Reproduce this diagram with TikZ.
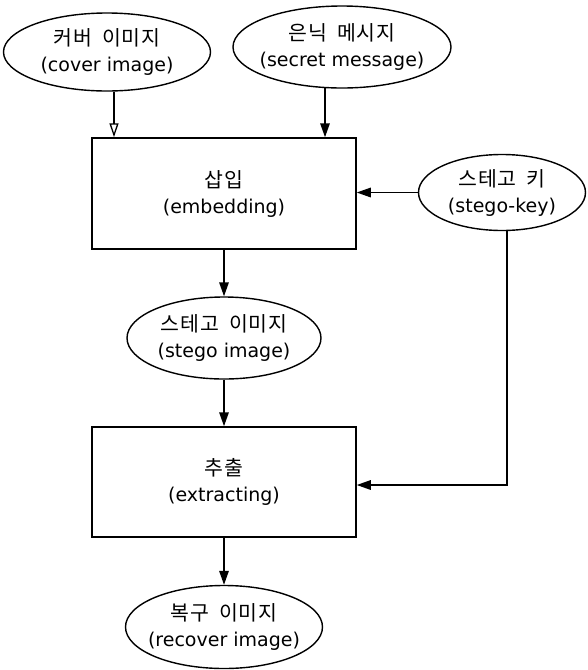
\documentclass[tikz,border=0pt]{standalone}
\usepackage{fontspec}
\setmainfont{DejaVu Sans}
\newfontfamily\cjk[WordSpace=1.8,LetterSpace=5]{Noto Sans CJK KR}
\newcommand{\kr}[1]{{\cjk\fontsize{20.5}{26}\selectfont #1}}
\usetikzlibrary{shapes.geometric,arrows.meta,calc}
\begin{document}
\begin{tikzpicture}[x=1pt,y=-1pt,
  every node/.style={font=\fontsize{19}{26}\selectfont, align=center, inner sep=0pt},
  ell/.style={draw, ellipse, line width=1.4pt, inner xsep=-40pt, inner ysep=-20pt},
  boxnode/.style={draw, rectangle, line width=1.5pt, minimum width=264pt, minimum height=111pt},
  arr/.style={line width=1.5pt, -{Triangle[length=14pt,width=9.5pt]}},
  arropen/.style={line width=1.3pt, -{Triangle[open,length=14pt,width=9pt]}}]
\useasboundingbox[fill=white] (0,0) rectangle (587,670);
\node[ell, minimum width=207pt, minimum height=78pt] (cover) at (107,52) {\kr{커버 이미지}\\(cover image)};
\node[ell, minimum width=218pt, minimum height=82pt] (secret) at (342,47) {\kr{은닉 메시지}\\(secret message)};
\node[boxnode] (emb) at (224,193.5) {\kr{삽입}\\(embedding)};
\node[ell, minimum width=167pt, minimum height=76pt] (key) at (502,192.5) {\kr{스테고 키}\\(stego-key)};
\node[ell, minimum width=194pt, minimum height=82pt] (simg) at (224,338) {\kr{스테고 이미지}\\(stego image)};
\node[boxnode, minimum height=110pt] (ext) at (224,482) {\kr{추출}\\(extracting)};
\node[ell, minimum width=197pt, minimum height=83pt] (rec) at (224,627) {\kr{복구 이미지}\\(recover image)};
\coordinate (cs) at ($(cover.south)+(7,0)$);
\coordinate (ss) at ($(secret.south)+(-17,-0.5)$);
\coordinate (ks) at ($(key.south)+(5,0)$);
\coordinate (ke) at ($(ext.east)+(0,3)$);
\draw[arropen] (cs) -- (cs |- emb.north);
\draw[arr] (ss) -- (ss |- emb.north);
\draw[arr] (key.west) -- (key.west -| emb.east);
\draw[arr] (emb.south) -- (simg.north);
\draw[arr] (simg.south) -- (ext.north);
\draw[arr] (ks) |- (ke);
\draw[arr] (ext.south) -- (rec.north);
\end{tikzpicture}
\end{document}
